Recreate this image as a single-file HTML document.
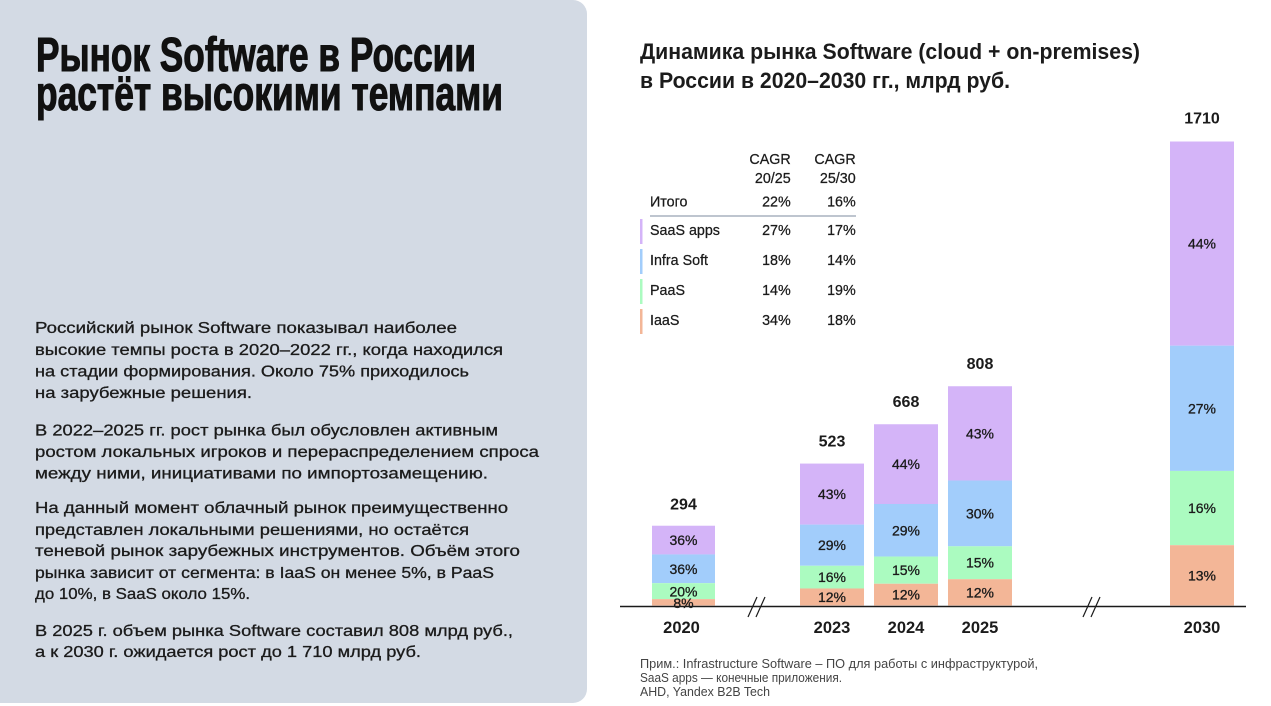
<!DOCTYPE html>
<html><head><meta charset="utf-8"><style>
html,body{margin:0;padding:0;background:#fff;}
svg{display:block;}
text{font-family:"Liberation Sans","DejaVu Sans",sans-serif;fill:#1b1b1b;}
.ttl{font-weight:bold;font-size:48px;fill:#111;stroke:#111;stroke-width:1.1;}
.body{font-size:16px;stroke:#1b1b1b;stroke-width:0.3;}
.ct{font-weight:bold;font-size:22px;}
.tb{font-size:14.3px;stroke:#1b1b1b;stroke-width:0.25;}
.pc{font-size:14px;text-anchor:middle;stroke:#1b1b1b;stroke-width:0.3;}
.val{font-size:16px;font-weight:bold;text-anchor:middle;}
.yr{font-size:16.5px;font-weight:bold;text-anchor:middle;}
.nt{font-size:12.5px;fill:#444;}
.r{text-anchor:end;}
</style></head><body>
<svg width="1271" height="706" viewBox="0 0 1271 706" xmlns="http://www.w3.org/2000/svg">
<rect x="0" y="0" width="1271" height="706" fill="#fff"/>
<rect x="-30" y="0" width="617" height="703" rx="14" fill="#d3dae4"/>

<!-- Left title -->
<text class="ttl" x="36" y="71" textLength="440" lengthAdjust="spacingAndGlyphs">Рынок Software в России</text>
<text class="ttl" x="36" y="110" textLength="467" lengthAdjust="spacingAndGlyphs">растёт высокими темпами</text>

<!-- Left body -->
<text class="body" x="35" y="333" textLength="422" lengthAdjust="spacingAndGlyphs">Российский рынок Software показывал наиболее</text>
<text class="body" x="35" y="355" textLength="468" lengthAdjust="spacingAndGlyphs">высокие темпы роста в 2020–2022 гг., когда находился</text>
<text class="body" x="35" y="376.5" textLength="434" lengthAdjust="spacingAndGlyphs">на стадии формирования. Около 75% приходилось</text>
<text class="body" x="35" y="398" textLength="217" lengthAdjust="spacingAndGlyphs">на зарубежные решения.</text>

<text class="body" x="35" y="435.5" textLength="463" lengthAdjust="spacingAndGlyphs">В 2022–2025 гг. рост рынка был обусловлен активным</text>
<text class="body" x="35" y="457" textLength="504" lengthAdjust="spacingAndGlyphs">ростом локальных игроков и перераспределением спроса</text>
<text class="body" x="35" y="478.5" textLength="453" lengthAdjust="spacingAndGlyphs">между ними, инициативами по импортозамещению.</text>

<text class="body" x="35" y="513" textLength="473" lengthAdjust="spacingAndGlyphs">На данный момент облачный рынок преимущественно</text>
<text class="body" x="35" y="535" textLength="434" lengthAdjust="spacingAndGlyphs">представлен локальными решениями, но остаётся</text>
<text class="body" x="35" y="556" textLength="485" lengthAdjust="spacingAndGlyphs">теневой рынок зарубежных инструментов. Объём этого</text>
<text class="body" x="35" y="578" textLength="459" lengthAdjust="spacingAndGlyphs">рынка зависит от сегмента: в IaaS он менее 5%, в PaaS</text>
<text class="body" x="35" y="599" textLength="215" lengthAdjust="spacingAndGlyphs">до 10%, в SaaS около 15%.</text>

<text class="body" x="35" y="636" textLength="478" lengthAdjust="spacingAndGlyphs">В 2025 г. объем рынка Software составил 808 млрд руб.,</text>
<text class="body" x="35" y="657" textLength="386" lengthAdjust="spacingAndGlyphs">а к 2030 г. ожидается рост до 1 710 млрд руб.</text>

<!-- Chart title -->
<text class="ct" x="640" y="59" textLength="500" lengthAdjust="spacingAndGlyphs">Динамика рынка Software (cloud + on-premises)</text>
<text class="ct" x="640" y="88" textLength="370" lengthAdjust="spacingAndGlyphs">в России в 2020–2030 гг., млрд руб.</text>

<!-- Table -->
<text class="tb r" x="790.7" y="164">CAGR</text>
<text class="tb r" x="790.7" y="183">20/25</text>
<text class="tb r" x="855.7" y="164">CAGR</text>
<text class="tb r" x="855.7" y="183">25/30</text>
<text class="tb" x="650" y="206.5">Итого</text>
<text class="tb r" x="790.7" y="206.5">22%</text>
<text class="tb r" x="855.7" y="206.5">16%</text>
<line x1="650" y1="216" x2="856" y2="216" stroke="#a9b2bf" stroke-width="1.6"/>

<rect x="640" y="219" width="2.5" height="25" fill="#d4b4f8"/>
<text class="tb" x="650" y="235">SaaS apps</text>
<text class="tb r" x="790.7" y="235">27%</text>
<text class="tb r" x="855.7" y="235">17%</text>

<rect x="640" y="249" width="2.5" height="25" fill="#a2cdfb"/>
<text class="tb" x="650" y="265">Infra Soft</text>
<text class="tb r" x="790.7" y="265">18%</text>
<text class="tb r" x="855.7" y="265">14%</text>

<rect x="640" y="279" width="2.5" height="25" fill="#abfbc0"/>
<text class="tb" x="650" y="295">PaaS</text>
<text class="tb r" x="790.7" y="295">14%</text>
<text class="tb r" x="855.7" y="295">19%</text>

<rect x="640" y="309" width="2.5" height="25" fill="#f3b697"/>
<text class="tb" x="650" y="325">IaaS</text>
<text class="tb r" x="790.7" y="325">34%</text>
<text class="tb r" x="855.7" y="325">18%</text>

<!-- Bars 2020 -->
<rect x="652" y="525.72" width="63" height="28.72" fill="#d4b4f8"/>
<rect x="652" y="554.44" width="63" height="28.72" fill="#a2cdfb"/>
<rect x="652" y="583.16" width="63" height="15.96" fill="#abfbc0"/>
<rect x="652" y="599.12" width="63" height="6.38" fill="#f3b697"/>
<text class="pc" x="683.5" y="545.1">36%</text>
<text class="pc" x="683.5" y="573.8">36%</text>
<text class="pc" x="683.5" y="596.6">20%</text>
<text class="pc" x="683.5" y="608">8%</text>
<text class="val" x="683.5" y="509.5">294</text>

<!-- 2023 -->
<rect x="800" y="463.58" width="64" height="61.02" fill="#d4b4f8"/>
<rect x="800" y="524.6" width="64" height="41.16" fill="#a2cdfb"/>
<rect x="800" y="565.76" width="64" height="22.71" fill="#abfbc0"/>
<rect x="800" y="588.47" width="64" height="17.03" fill="#f3b697"/>
<text class="pc" x="832" y="499.1">43%</text>
<text class="pc" x="832" y="550.2">29%</text>
<text class="pc" x="832" y="582.1">16%</text>
<text class="pc" x="832" y="602">12%</text>
<text class="val" x="832" y="446.4">523</text>

<!-- 2024 -->
<rect x="874" y="424.24" width="64" height="79.75" fill="#d4b4f8"/>
<rect x="874" y="503.99" width="64" height="52.57" fill="#a2cdfb"/>
<rect x="874" y="556.56" width="64" height="27.19" fill="#abfbc0"/>
<rect x="874" y="583.75" width="64" height="21.75" fill="#f3b697"/>
<text class="pc" x="906" y="469.1">44%</text>
<text class="pc" x="906" y="535.3">29%</text>
<text class="pc" x="906" y="575.2">15%</text>
<text class="pc" x="906" y="599.6">12%</text>
<text class="val" x="906" y="407">668</text>

<!-- 2025 -->
<rect x="948" y="386.24" width="64" height="94.28" fill="#d4b4f8"/>
<rect x="948" y="480.52" width="64" height="65.78" fill="#a2cdfb"/>
<rect x="948" y="546.3" width="64" height="32.89" fill="#abfbc0"/>
<rect x="948" y="579.19" width="64" height="26.31" fill="#f3b697"/>
<text class="pc" x="980" y="438.4">43%</text>
<text class="pc" x="980" y="518.4">30%</text>
<text class="pc" x="980" y="567.7">15%</text>
<text class="pc" x="980" y="597.3">12%</text>
<text class="val" x="980" y="369">808</text>

<!-- 2030 -->
<rect x="1170" y="141.5" width="64" height="204.16" fill="#d4b4f8"/>
<rect x="1170" y="345.66" width="64" height="125.28" fill="#a2cdfb"/>
<rect x="1170" y="470.94" width="64" height="74.24" fill="#abfbc0"/>
<rect x="1170" y="545.18" width="64" height="60.32" fill="#f3b697"/>
<text class="pc" x="1202" y="248.6">44%</text>
<text class="pc" x="1202" y="413.3">27%</text>
<text class="pc" x="1202" y="513.1">16%</text>
<text class="pc" x="1202" y="580.3">13%</text>
<text class="val" x="1202" y="123.3">1710</text>

<!-- Axis -->
<line x1="620" y1="606.5" x2="1246" y2="606.5" stroke="#1a1a1a" stroke-width="1.6"/>
<line x1="748" y1="617" x2="757" y2="597" stroke="#1a1a1a" stroke-width="1.2"/>
<line x1="756" y1="617" x2="765" y2="597" stroke="#1a1a1a" stroke-width="1.2"/>
<line x1="1083" y1="617" x2="1092" y2="597" stroke="#1a1a1a" stroke-width="1.2"/>
<line x1="1091" y1="617" x2="1100" y2="597" stroke="#1a1a1a" stroke-width="1.2"/>

<!-- Years -->
<text class="yr" x="681.5" y="633">2020</text>
<text class="yr" x="832" y="633">2023</text>
<text class="yr" x="906" y="633">2024</text>
<text class="yr" x="980" y="633">2025</text>
<text class="yr" x="1202" y="633">2030</text>

<!-- Notes -->
<text class="nt" x="640" y="668" textLength="398" lengthAdjust="spacingAndGlyphs">Прим.: Infrastructure Software – ПО для работы с инфраструктурой,</text>
<text class="nt" x="640" y="682" textLength="202" lengthAdjust="spacingAndGlyphs">SaaS apps — конечные приложения.</text>
<text class="nt" x="640" y="696" textLength="130" lengthAdjust="spacingAndGlyphs">AHD, Yandex B2B Tech</text>
</svg>
</body></html>
